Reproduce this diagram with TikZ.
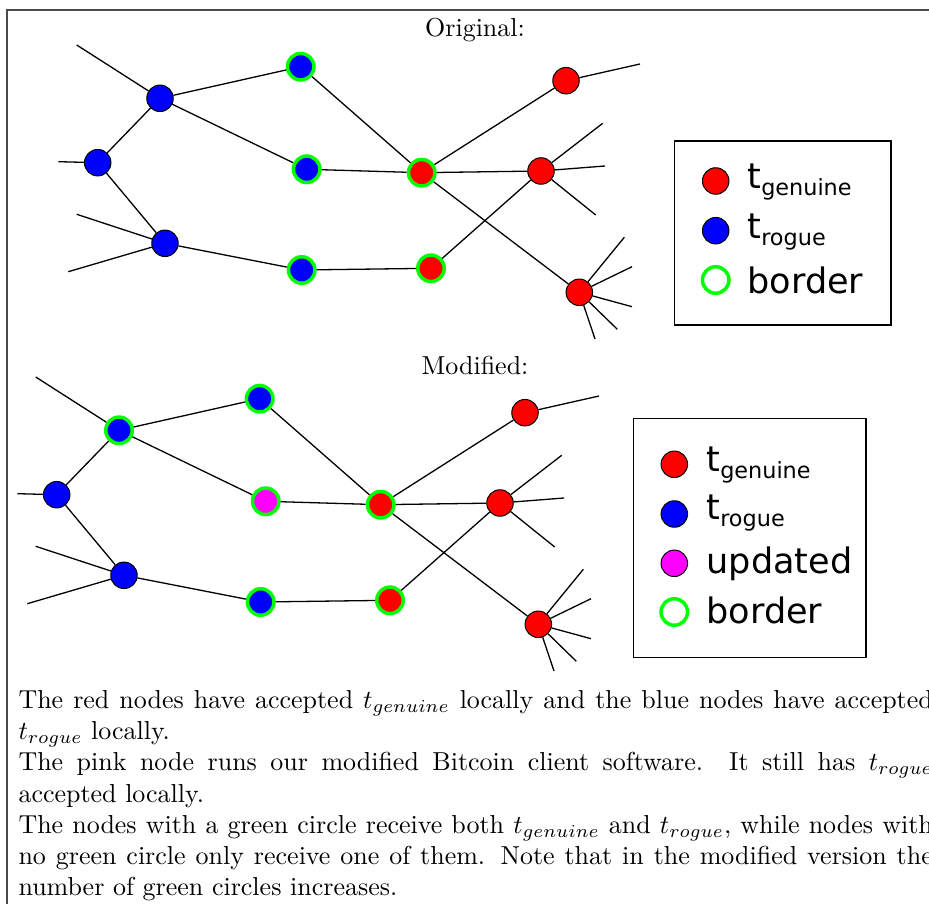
\documentclass[tikz,border=0pt]{standalone}
\usepackage{fontspec}
\usepackage{amsmath}
\usepackage{tikz}
\usetikzlibrary{positioning}
\newfontfamily\legendfont{DejaVu Sans}
\newcommand{\lsub}[1]{\raisebox{-2.6pt}{\fontsize{8.6}{9}\selectfont #1}}
\definecolor{genuineRed}{HTML}{FF0000}
\definecolor{rogueBlue}{HTML}{0000FF}
\definecolor{updatedPink}{HTML}{FF00FF}
\definecolor{borderGreen}{HTML}{00FF00}
\definecolor{frameGray}{HTML}{4A4A4A}
\tikzset{
  peer/.style={
    circle, draw=black, line width=0.38pt,
    minimum size=10.2pt, inner sep=0pt, fill=#1,
  },
  borderpeer/.style={
    circle, draw=borderGreen, line width=1.35pt,
    minimum size=10.2pt, inner sep=0pt, fill=#1,
  },
  link/.style={
    line width=0.5pt, draw=black,
  },
  legendbox/.style={
    draw=black, line width=0.5pt, inner sep=0pt,
  },
  legendtext/.style={
    font=\legendfont\fontsize{13.5}{16}\selectfont,
    anchor=base west, inner sep=0pt,
  },
  caption/.style={
    font=\normalsize, anchor=base, inner sep=0pt,
  },
}

\begin{document}
\begin{tikzpicture}[x=0.385pt, y=-0.385pt]
  \useasboundingbox (0,0) rectangle (929,904);

  % ─── Frame ───────────────────────────────────────────────────────────
  \draw[frameGray, line width=0.6pt] (7,930) -- (7,10) -- (960,10);

  % ─── Original network ────────────────────────────────────────────────
  \node[caption] (origTitle) at (475,37) {Original:};

  \node[peer=rogueBlue] (oA1) at (160,98.3) {};
  \node[peer=rogueBlue] (oA2) at (97.7,162.7) {};
  \node[peer=rogueBlue] (oA3) at (165,243.3) {};
  \node[borderpeer=rogueBlue] (oA4) at (300.7,66.7) {};
  \node[borderpeer=rogueBlue] (oA5) at (306.7,169.3) {};
  \node[borderpeer=rogueBlue] (oA6) at (301.7,270) {};
  \node[borderpeer=genuineRed] (oB1) at (421.7,172.7) {};
  \node[borderpeer=genuineRed] (oB2) at (431,268.3) {};
  \node[peer=genuineRed] (oC1) at (566,80.7) {};
  \node[peer=genuineRed] (oC2) at (541,171) {};
  \node[peer=genuineRed] (oC3) at (579.3,292.3) {};

  % ─── Modified network (same layout, shifted) ─────────────────────────
  \node[caption] (modTitle) at (475,375) {Modified:};

  \begin{scope}[shift={(-41,332)}]
    \node[borderpeer=rogueBlue] (mA1) at (160,98.3) {};
    \node[peer=rogueBlue] (mA2) at (97.7,162.7) {};
    \node[peer=rogueBlue] (mA3) at (165,243.3) {};
    \node[borderpeer=rogueBlue] (mA4) at (300.7,66.7) {};
    \node[borderpeer=updatedPink] (mA5) at (306.7,169.3) {};
    \node[borderpeer=rogueBlue] (mA6) at (301.7,270) {};
    \node[borderpeer=genuineRed] (mB1) at (421.7,172.7) {};
    \node[borderpeer=genuineRed] (mB2) at (431,268.3) {};
    \node[peer=genuineRed] (mC1) at (566,80.7) {};
    \node[peer=genuineRed] (mC2) at (541,171) {};
    \node[peer=genuineRed] (mC3) at (579.3,292.3) {};
  \end{scope}

  % Links and loose ends, identical in both networks
  \foreach \net in {o,m} {
    \draw[link] (\net A1) -- (\net A2);
    \draw[link] (\net A1) -- (\net A4);
    \draw[link] (\net A1) -- (\net A5);
    \draw[link] (\net A2) -- (\net A3);
    \draw[link] (\net A3) -- (\net A6);
    \draw[link] (\net A4) -- (\net B1);
    \draw[link] (\net A5) -- (\net B1);
    \draw[link] (\net A6) -- (\net B2);
    \draw[link] (\net B1) -- (\net C1);
    \draw[link] (\net B1) -- (\net C2);
    \draw[link] (\net B1) -- (\net C3);
    \draw[link] (\net B2) -- (\net C2);
    \draw[link] (\net A1) -- ++(-83.3,-53.3);
    \draw[link] (\net A2) -- ++(-39.4,-1);
    \foreach \dx/\dy in {-88.3/-29, -96.7/28.4}
      \draw[link] (\net A3) -- ++(\dx,\dy);
    \draw[link] (\net C1) -- ++(74,-16.7);
    \foreach \dx/\dy in {61.7/-47.7, 64/-5, 54.7/44}
      \draw[link] (\net C2) -- ++(\dx,\dy);
    \foreach \dx/\dy in {45/-55, 52.7/-25.6, 52.7/14.4, 38/37, 15.7/46.7}
      \draw[link] (\net C3) -- ++(\dx,\dy);
  }

  % ─── Legend, original ────────────────────────────────────────────────
  \node[legendbox, minimum width=83.3pt, minimum height=70.8pt]
    (origKey) at (782.9,233) {};
  \node[peer=genuineRed] (oKeyG) at (715.7,181) {};
  \node[peer=rogueBlue] (oKeyR) at (715.7,230.7) {};
  \node[borderpeer=white] (oKeyB) at (715.7,280) {};
  \node[legendtext] (oTxtG) at (747,188.3) {t\lsub{genuine}};
  \node[legendtext] (oTxtR) at (747,238.3) {t\lsub{rogue}};
  \node[legendtext] (oTxtB) at (747,293.3) {border};

  % ─── Legend, modified ────────────────────────────────────────────────
  \node[legendbox, minimum width=89.6pt, minimum height=92pt]
    (modKey) at (749.7,537.8) {};
  \node[peer=genuineRed] (mKeyG) at (674.3,464.3) {};
  \node[peer=rogueBlue] (mKeyR) at (674.3,514) {};
  \node[peer=updatedPink] (mKeyU) at (674.3,563.3) {};
  \node[borderpeer=white] (mKeyB) at (674.3,612) {};
  \node[legendtext] (mTxtG) at (706,471.7) {t\lsub{genuine}};
  \node[legendtext] (mTxtR) at (706,520) {t\lsub{rogue}};
  \node[legendtext] (mTxtU) at (706,573.3) {updated};
  \node[legendtext] (mTxtB) at (706,623.3) {border};

  % ─── Notes below ─────────────────────────────────────────────────────
  \node[anchor=north west, inner sep=0pt, text width=352pt, align=justify,
        font=\fontsize{10}{12}\selectfont]
    (notes) at (18,690) {The red nodes have accepted $t_{genuine}$ locally
    and the blue nodes have accepted\linebreak $t_{rogue}$ locally.\\
    The pink node runs our modified Bitcoin client software.  It still
    has $t_{rogue}$\linebreak accepted locally.\\
    The nodes with a green circle receive both $t_{genuine}$ and
    $t_{rogue}$, while nodes with\linebreak no green circle only receive
    one of them. Note that in the modified version the\linebreak number
    of green circles increases.};

\end{tikzpicture}
\end{document}
